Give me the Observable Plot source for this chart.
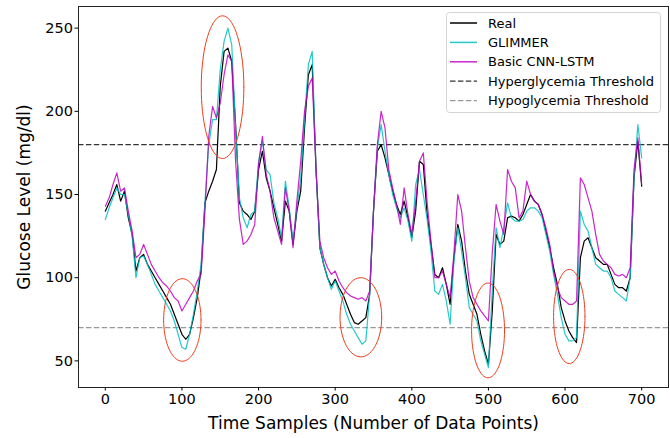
<!DOCTYPE html>
<html><head><meta charset="utf-8">
<script src="https://cdn.jsdelivr.net/npm/d3@7"></script>
<script src="https://cdn.jsdelivr.net/npm/@observablehq/plot@0.6"></script>
<style>
body{margin:0;background:#fff;}
#wrap{position:relative;width:670px;height:438px;font-family:"DejaVu Sans",sans-serif;}
#legend{position:absolute;left:446px;top:12px;}
</style>
</head><body><div id="wrap"></div>
<script>
// time sample index (every 5th sample)
const samples = d3.range(0, 701, 5);

const real = [140,145,150,156,146,152,136,126,104,112,114,108,104,100,96,92,88,84,78,72,
66,63,66,76,88,105,145,152,158,165,215,236,238,230,192,145,140,138,135,140,
165,176,160,152,142,132,122,146,140,120,140,152,190,222,228,165,118,108,100,95,
99,94,90,84,78,73,72,74,76,90,140,176,180,172,162,152,144,138,146,136,
124,140,170,168,138,120,102,100,106,96,84,112,132,122,104,90,84,78,66,56,
48,80,126,120,122,136,137,136,134,138,144,150,146,144,138,128,118,106,96,82,
74,68,64,61,112,122,124,118,112,110,108,108,102,96,94,94,92,100,160,182,155];

const glimmer = [135,142,148,154,150,150,138,125,100,112,113,108,102,96,92,88,84,80,74,66,
58,57,66,78,92,108,145,180,195,195,225,242,250,240,190,148,136,130,138,140,
170,182,165,162,145,136,124,158,142,122,142,160,195,228,236,165,118,108,100,93,
98,92,86,78,72,68,64,60,62,90,140,178,192,176,162,150,142,136,142,134,
122,156,165,150,135,116,92,90,96,86,72,110,130,116,100,82,78,74,62,54,
46,92,130,118,130,145,136,134,134,135,140,142,142,140,136,126,116,102,90,76,
66,62,62,64,140,132,128,118,108,106,104,104,100,92,90,88,86,100,160,192,172];

const cnnLstm = [143,148,156,163,152,154,140,128,112,114,120,114,108,104,100,97,95,92,88,86,
80,84,88,92,98,102,140,185,203,196,205,222,234,230,170,135,120,122,126,132,
168,185,162,152,136,128,120,154,140,118,146,170,200,215,220,165,122,112,106,102,
104,98,94,91,89,88,87,88,86,92,140,180,200,190,165,154,144,132,154,138,
126,145,170,175,145,122,100,100,104,96,88,115,150,140,118,98,88,84,80,77,
74,115,144,134,126,165,158,154,136,140,158,150,146,144,138,130,120,104,94,88,
86,84,84,86,160,156,148,140,126,114,110,108,106,102,101,102,100,106,165,184,156];

const seriesNames = ["Real", "GLIMMER", "Basic CNN-LSTM"];
const seriesColors = ["#000000", "#00bfbf", "#bf00bf"];
const thresholdNames = ["Hyperglycemia Threshold", "Hypoglycemia Threshold"];
const thresholdValues = [180, 70];
const thresholdColors = ["#000000", "#808080"];

const xTicks = [0, 100, 200, 300, 400, 500, 600, 700];
const yTicks = [50, 100, 150, 200, 250];
const xLabel = "Time Samples (Number of Data Points)";
const yLabel = "Glucose Level (mg/dl)";

// highlighted regions (ellipse annotations, in data units)
const ellipseCenterX = [153, 100.5, 333.5, 499.5, 605.5];
const ellipseCenterY = [214.5, 74.6, 76.2, 68.3, 76.7];
const ellipseRadiusX = [27.8, 24.4, 27.2, 21.5, 20.5];
const ellipseRadiusY = [42.9, 24.8, 23.8, 28.5, 28.3];

const seriesValues = [real, glimmer, cnnLstm];
const rows = seriesValues.map((vals, k) => samples.map((t, i) => ({t, v: vals[i], s: seriesNames[k]})));

const ellipsePts = [];
ellipseCenterX.forEach((cx, k) => {
  for (let j = 0; j <= 72; j++) {
    const a = j / 72 * 2 * Math.PI;
    ellipsePts.push({id: k, t: cx + ellipseRadiusX[k] * Math.cos(a), v: ellipseCenterY[k] + ellipseRadiusY[k] * Math.sin(a)});
  }
});

const chart = Plot.plot({
  width: 670, height: 438,
  marginLeft: 78, marginRight: 2, marginTop: 6, marginBottom: 51,
  style: {fontFamily: "DejaVu Sans, sans-serif", background: "#fff", color: "#000"},
  x: {domain: [-35, 735]},
  y: {domain: [34, 263]},
  marks: [
    Plot.ruleY([thresholdValues[0]], {stroke: thresholdColors[0], strokeWidth: 1.3, strokeDasharray: "5.5,2.4", strokeOpacity: 0.8}),
    Plot.ruleY([thresholdValues[1]], {stroke: thresholdColors[1], strokeWidth: 1.3, strokeDasharray: "5.5,2.4", strokeOpacity: 0.8}),
    Plot.line(rows[0], {x: "t", y: "v", stroke: seriesColors[0], strokeWidth: 1.2}),
    Plot.line(rows[1], {x: "t", y: "v", stroke: seriesColors[1], strokeWidth: 1.2, strokeOpacity: 0.85}),
    Plot.line(rows[2], {x: "t", y: "v", stroke: seriesColors[2], strokeWidth: 1.2, strokeOpacity: 0.85}),
    Plot.line(ellipsePts, {x: "t", y: "v", z: "id", stroke: "#ee3d1d", strokeWidth: 1}),
    Plot.frame({stroke: "#222", strokeWidth: 1}),
    Plot.axisX({ticks: xTicks, tickSize: 3.5, tickPadding: 3, fontSize: 14.5, label: null}),
    Plot.axisY({ticks: yTicks, tickSize: 3.5, tickPadding: 2, fontSize: 14.5, label: null}),
    Plot.text([xLabel], {frameAnchor: "bottom", dy: 36, lineAnchor: "middle", textAnchor: "middle", fontSize: 17, fill: "#000"}),
    Plot.text([yLabel], {frameAnchor: "left", dx: -54, rotate: -90, textAnchor: "middle", lineAnchor: "middle", fontSize: 17, fill: "#000"})
  ]
});

const wrap = document.getElementById("wrap");
wrap.append(chart);

// legend overlay
const ns = "http://www.w3.org/2000/svg";
const lg = document.createElementNS(ns, "svg");
lg.setAttribute("id", "legend");
lg.setAttribute("width", 216);
lg.setAttribute("height", 102);
const box = document.createElementNS(ns, "rect");
box.setAttribute("x", 0.5); box.setAttribute("y", 0.5);
box.setAttribute("width", 214); box.setAttribute("height", 100);
box.setAttribute("rx", 3);
box.setAttribute("fill", "rgba(255,255,255,0.8)");
box.setAttribute("stroke", "#d5d5d5");
lg.append(box);
const items = [
  {name: seriesNames[0], color: seriesColors[0], dash: null, op: 1},
  {name: seriesNames[1], color: seriesColors[1], dash: null, op: 0.85},
  {name: seriesNames[2], color: seriesColors[2], dash: null, op: 0.85},
  {name: thresholdNames[0], color: thresholdColors[0], dash: "5.5,2.4", op: 0.8},
  {name: thresholdNames[1], color: thresholdColors[1], dash: "5.5,2.4", op: 0.8}
];
items.forEach((it, i) => {
  const y = 11 + i * 19.4;
  const ln = document.createElementNS(ns, "line");
  ln.setAttribute("x1", 4); ln.setAttribute("x2", 31);
  ln.setAttribute("y1", y); ln.setAttribute("y2", y);
  ln.setAttribute("stroke", it.color);
  ln.setAttribute("stroke-width", it.dash ? 1.3 : 1.5);
  ln.setAttribute("stroke-opacity", it.op);
  if (it.dash) ln.setAttribute("stroke-dasharray", it.dash);
  lg.append(ln);
  const tx = document.createElementNS(ns, "text");
  tx.setAttribute("x", 42); tx.setAttribute("y", y);
  tx.setAttribute("dy", "0.35em");
  tx.setAttribute("font-size", 13);
  tx.setAttribute("font-family", "DejaVu Sans");
  tx.setAttribute("fill", "#000");
  tx.textContent = it.name;
  lg.append(tx);
});
wrap.append(lg);
</script>
</body></html>
